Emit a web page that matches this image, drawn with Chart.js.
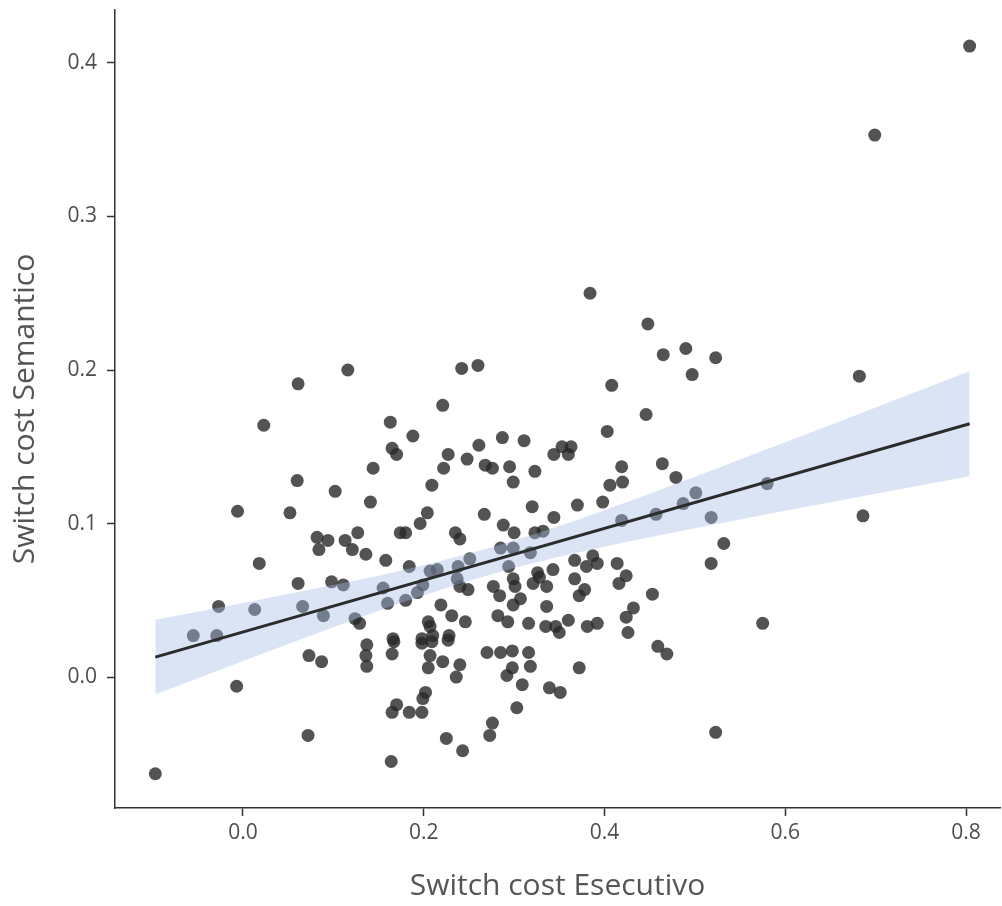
<!DOCTYPE html>
<html>
<head>
<meta charset="utf-8">
<title>Switch cost</title>
<script src="https://cdn.jsdelivr.net/npm/chart.js@4/dist/chart.umd.min.js"></script>
<style>
  html, body { margin: 0; padding: 0; background: #fff; }
  #wrap { width: 1002px; height: 906px; }
</style>
</head>
<body>
<div id="wrap"><canvas id="scatterChart" width="1002" height="906"></canvas></div>
<script>
// ============================================================
// Switch cost Esecutivo vs Semantico - scatter + linear fit
// ============================================================

// scatter values (Esecutivo on x, Semantico on y)
const esecutivo = [
  0.061, 0.023, 0.060, 0.116, 0.242, 0.260, 0.221, 0.163, 0.188, 0.165,
  0.170, 0.144, 0.227, 0.222, 0.248, 0.261, 0.268, 0.276, 0.287, 0.209,
  0.384, 0.448, 0.465, 0.490, 0.408, 0.446, 0.403, 0.311, 0.353, 0.363,
  0.344, 0.360, 0.295, 0.323, 0.419, 0.464, 0.479, 0.299, 0.406, 0.420,
  0.523, 0.497, 0.682, -0.006, 0.052, 0.102, 0.082, 0.094, 0.084, 0.018,
  0.061, 0.098, -0.027, 0.013, 0.066, 0.089, -0.055, -0.029, 0.141, 0.204,
  0.196, 0.267, 0.113, 0.127, 0.121, 0.136, 0.174, 0.180, 0.235, 0.240,
  0.158, 0.184, 0.285, 0.251, 0.207, 0.215, 0.238, 0.237, 0.111, 0.155,
  0.199, 0.193, 0.240, 0.249, 0.277, 0.284, 0.160, 0.180, 0.219, 0.231,
  0.246, 0.282, 0.124, 0.129, 0.205, 0.207, 0.166, 0.198, 0.210, 0.228,
  0.320, 0.370, 0.398, 0.344, 0.288, 0.300, 0.323, 0.332, 0.419, 0.457,
  0.299, 0.318, 0.294, 0.367, 0.387, 0.392, 0.380, 0.414, 0.424, 0.416,
  0.343, 0.326, 0.328, 0.299, 0.367, 0.321, 0.336, 0.301, 0.378, 0.372,
  0.453, 0.307, 0.299, 0.336, 0.432, 0.424, 0.293, 0.316, 0.335, 0.346,
  0.350, 0.360, 0.381, 0.392, 0.426, 0.501, 0.487, 0.580, 0.518, 0.686,
  0.532, 0.518, 0.575, 0.073, 0.087, -0.007, 0.072, -0.097, 0.137, 0.136,
  0.137, 0.165, 0.167, 0.198, 0.209, 0.207, 0.205, 0.221, 0.240, 0.236,
  0.227, 0.270, 0.285, 0.202, 0.199, 0.170, 0.165, 0.184, 0.198, 0.276,
  0.273, 0.225, 0.243, 0.164, 0.298, 0.316, 0.318, 0.298, 0.292, 0.309,
  0.339, 0.351, 0.372, 0.303, 0.459, 0.469, 0.804, 0.699, 0.523
];
const semantico = [
  0.191, 0.164, 0.128, 0.200, 0.201, 0.203, 0.177, 0.166, 0.157, 0.149,
  0.145, 0.136, 0.145, 0.136, 0.142, 0.151, 0.138, 0.136, 0.156, 0.125,
  0.250, 0.230, 0.210, 0.214, 0.190, 0.171, 0.160, 0.154, 0.150, 0.150,
  0.145, 0.145, 0.137, 0.134, 0.137, 0.139, 0.130, 0.127, 0.125, 0.127,
  0.208, 0.197, 0.196, 0.108, 0.107, 0.121, 0.091, 0.089, 0.083, 0.074,
  0.061, 0.062, 0.046, 0.044, 0.046, 0.040, 0.027, 0.027, 0.114, 0.107,
  0.100, 0.106, 0.089, 0.094, 0.083, 0.080, 0.094, 0.094, 0.094, 0.090,
  0.076, 0.072, 0.084, 0.077, 0.069, 0.070, 0.072, 0.064, 0.060, 0.058,
  0.060, 0.055, 0.059, 0.057, 0.059, 0.053, 0.048, 0.050, 0.047, 0.040,
  0.036, 0.040, 0.038, 0.035, 0.036, 0.033, 0.025, 0.025, 0.027, 0.027,
  0.111, 0.112, 0.114, 0.104, 0.099, 0.094, 0.094, 0.095, 0.102, 0.106,
  0.084, 0.081, 0.072, 0.076, 0.079, 0.074, 0.072, 0.074, 0.066, 0.061,
  0.070, 0.068, 0.065, 0.064, 0.064, 0.061, 0.059, 0.059, 0.057, 0.053,
  0.054, 0.051, 0.047, 0.046, 0.045, 0.039, 0.036, 0.035, 0.033, 0.033,
  0.029, 0.037, 0.033, 0.035, 0.029, 0.120, 0.113, 0.126, 0.104, 0.105,
  0.087, 0.074, 0.035, 0.014, 0.010, -0.006, -0.038, -0.063, 0.021, 0.014,
  0.007, 0.015, 0.023, 0.022, 0.023, 0.014, 0.006, 0.010, 0.008, 0.000,
  0.024, 0.016, 0.016, -0.010, -0.014, -0.018, -0.023, -0.023, -0.023, -0.030,
  -0.038, -0.040, -0.048, -0.055, 0.017, 0.016, 0.007, 0.006, 0.001, -0.005,
  -0.007, -0.010, 0.006, -0.020, 0.020, 0.015, 0.411, 0.353, -0.036
];

// fitted line and its confidence band
const fitX = [-0.097, 0.804];
const fitY = [0.013, 0.165];
const bandX = [-0.097, 0.0, 0.1, 0.2, 0.3, 0.4, 0.5, 0.6, 0.7, 0.804];
const bandLow = [-0.0114, 0.0105, 0.0325, 0.0533, 0.0710, 0.0849, 0.0969, 0.1083, 0.1194, 0.1308];
const bandHigh = [0.0374, 0.0483, 0.0599, 0.0729, 0.0890, 0.1087, 0.1305, 0.1529, 0.1756, 0.1992];

const xTicks = [0.0, 0.2, 0.4, 0.6, 0.8];
const yTicks = [0.0, 0.1, 0.2, 0.3, 0.4];
const xTitle = 'Switch cost Esecutivo';
const yTitle = 'Switch cost Semantico';

const FONT = "'Open Sans', 'Liberation Sans', sans-serif";
const AXIS_COLOR = '#333333';

function pairs(xs, ys) {
  return xs.map((x, i) => ({ x: x, y: ys[i] }));
}

function axis(min, max, tickValues, title, fixSize) {
  return {
    type: 'linear',
    min: min,
    max: max,
    afterBuildTicks: scale => { scale.ticks = tickValues.map(v => ({ value: v })); },
    afterFit: scale => {
      fixSize(scale);
      // no extra room for the end labels, the plot box is fixed
      scale.paddingTop = 0;
      scale.paddingBottom = 0;
      scale.paddingLeft = 0;
      scale.paddingRight = 0;
    },
    border: { display: true, color: AXIS_COLOR, width: 1.5 },
    grid: {
      display: true,
      drawOnChartArea: false,
      drawTicks: true,
      tickLength: 8,
      tickColor: AXIS_COLOR,
      tickWidth: 1.5
    },
    ticks: {
      color: '#4d4d4d',
      font: { family: FONT, size: 21 },
      callback: v => Number(v).toFixed(1)
    },
    title: {
      display: true,
      text: title,
      color: '#555555',
      font: { family: FONT, size: 30, lineHeight: 1.2 }
    }
  };
}

function renderChart() {
  const ctx = document.getElementById('scatterChart');

  const xScale = axis(-0.1416, 0.8376, xTicks, xTitle, s => { s.height = 98; });
  xScale.ticks.padding = 4;
  xScale.title.padding = { top: 0, bottom: 2 };

  const yScale = axis(-0.0853, 0.4345, yTicks, yTitle, s => { s.width = 115; });
  yScale.ticks.padding = 10;
  yScale.title.padding = { top: 7, bottom: 0 };

  new Chart(ctx, {
    type: 'scatter',
    data: {
      datasets: [
        {
          label: 'points',
          data: pairs(esecutivo, semantico),
          backgroundColor: 'rgba(40,40,40,0.8)',
          borderWidth: 0,
          pointRadius: 6.5,
          order: 4
        },
        {
          label: 'band low',
          type: 'line',
          data: pairs(bandX, bandLow),
          borderWidth: 0,
          pointRadius: 0,
          cubicInterpolationMode: 'monotone',
          backgroundColor: 'rgba(162,187,230,0.4)',
          fill: '+1',
          order: 3
        },
        {
          label: 'band high',
          type: 'line',
          data: pairs(bandX, bandHigh),
          borderWidth: 0,
          pointRadius: 0,
          cubicInterpolationMode: 'monotone',
          fill: false,
          order: 2
        },
        {
          label: 'fit',
          type: 'line',
          data: pairs(fitX, fitY),
          borderColor: '#2b2b2b',
          borderWidth: 3,
          pointRadius: 0,
          fill: false,
          order: 1
        }
      ]
    },
    options: {
      responsive: false,
      animation: false,
      layout: {
        autoPadding: false,
        padding: { top: 10, right: 2, left: 0, bottom: 0 }
      },
      plugins: {
        legend: { display: false },
        tooltip: { enabled: false }
      },
      scales: { x: xScale, y: yScale }
    }
  });
}

renderChart();
</script>
</body>
</html>
